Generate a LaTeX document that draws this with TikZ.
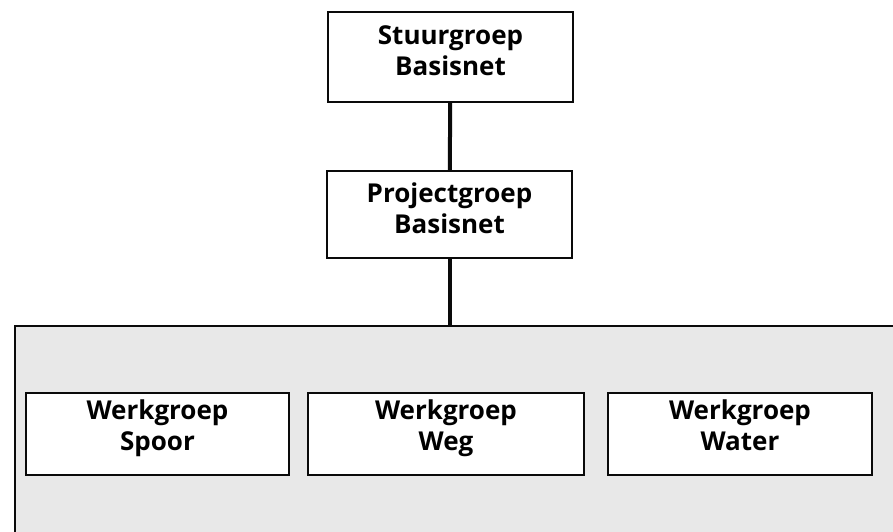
\documentclass[tikz,border=0pt]{standalone}
\usepackage{fontspec}
\setmainfont{Open Sans}
\usepackage{tikz}
\usetikzlibrary{
  positioning,
  calc
}
\definecolor{panelgray}{RGB}{232,232,232}
\definecolor{inkblack}{RGB}{10,10,10}

\begin{document}
\begin{tikzpicture}[x=1pt,y=-1pt,
  groep/.style={draw=inkblack,line width=2pt,fill=white,inner sep=0pt},
  tekst/.style={align=center,inner sep=0pt,yshift=6pt,
    font=\bfseries\fontsize{26}{31}\selectfont},
  lijn/.style={draw=inkblack,line width=4pt}]
  \useasboundingbox (0,0) rectangle (893,531);
  % grey panel round the working groups
  \node[draw=inkblack,line width=2pt,fill=panelgray,minimum width=884pt,
    minimum height=212pt,inner sep=0pt,anchor=north west] (panel) at (14,325) {};
  \node[groep,minimum width=245pt,minimum height=90pt] (stuur) at (450.5,57) {};
  \node[groep,minimum width=245pt,minimum height=87pt] (project) at (449.5,214.5) {};
  \node[groep,minimum width=263pt,minimum height=82pt] (spoor) at (157.5,434) {};
  \node[groep,minimum width=276pt,minimum height=82pt] (weg) at (446,434) {};
  \node[groep,minimum width=264pt,minimum height=82pt] (water) at (740,434) {};
  % labels
  \node[tekst] (stuurtekst) at (stuur) {Stuurgroep\\Basisnet};
  \node[tekst] (projecttekst) at (project) {Projectgroep\\Basisnet};
  \node[tekst] (spoortekst) at (spoor) {Werkgroep\\Spoor};
  \node[tekst] (wegtekst) at (weg) {Werkgroep\\Weg};
  \node[tekst] (watertekst) at (water) {Werkgroep\\Water\vphantom{p}};
  \draw[lijn] (stuur) -- (project);
  \draw[lijn] (project) -- (project |- panel.north);
\end{tikzpicture}
\end{document}
